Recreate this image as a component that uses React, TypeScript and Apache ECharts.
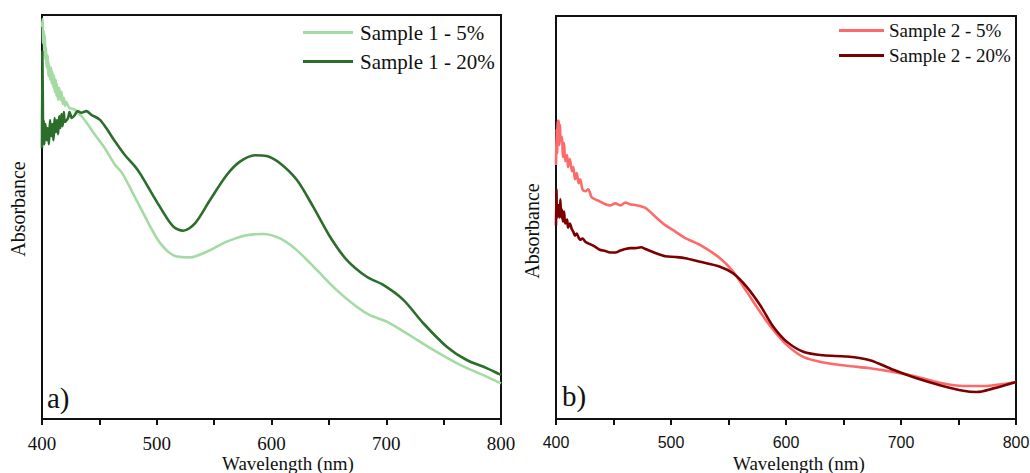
import React, { useEffect, useRef } from "react";
import * as echarts from "echarts";

// Panel a) Sample 1
const s1LowWl = [400, 400.5, 401, 401.5, 402, 402.5, 403, 403.5, 404, 405, 405.5, 406, 407, 408, 408.5, 409, 410, 410.5, 411, 412, 412.5, 413, 414, 415, 416, 417, 418, 419, 420, 421, 422.7, 424, 426, 428.5, 431, 434.3, 440, 446, 454.6, 463.4, 470, 485.4, 502.8, 517.4, 529, 543.5, 561, 578.4, 592.9, 607.4, 622, 639.4, 656.8, 674.2, 685.8, 700.4, 717.8, 741, 764.3, 787.5, 800];
const s1LowAbs = [0.97, 0.99, 0.93, 0.96, 0.9, 0.95, 0.89, 0.92, 0.87, 0.9, 0.85, 0.88, 0.84, 0.87, 0.83, 0.86, 0.82, 0.85, 0.81, 0.84, 0.8, 0.83, 0.79, 0.82, 0.79, 0.81, 0.78, 0.795, 0.775, 0.785, 0.775, 0.77, 0.768, 0.766, 0.758, 0.75, 0.729, 0.704, 0.671, 0.63, 0.608, 0.525, 0.436, 0.402, 0.4, 0.414, 0.439, 0.455, 0.458, 0.447, 0.418, 0.369, 0.319, 0.278, 0.257, 0.241, 0.212, 0.171, 0.134, 0.105, 0.088];

const s1HighWl = [400, 400.3, 400.7, 401, 401.5, 402, 403, 404, 405, 406, 407, 408, 409, 410, 411, 412, 413, 414, 415, 416, 417, 418, 419, 420, 422.7, 424, 426, 428.5, 431, 434.3, 438.6, 443, 450.3, 456, 463.4, 472, 480.8, 485.4, 502.8, 514.5, 523, 533.3, 546.4, 561, 572.5, 585.6, 595.8, 607.4, 622, 636.4, 651, 665.5, 683, 697.4, 714.9, 732.3, 752.7, 770.1, 787.5, 800];
const s1HighAbs = [0.67, 0.91, 0.8, 0.7, 0.74, 0.68, 0.73, 0.69, 0.72, 0.68, 0.74, 0.7, 0.73, 0.69, 0.745, 0.71, 0.74, 0.705, 0.75, 0.72, 0.755, 0.725, 0.76, 0.735, 0.745, 0.76, 0.745, 0.752, 0.762, 0.758, 0.762, 0.753, 0.741, 0.72, 0.688, 0.654, 0.626, 0.608, 0.525, 0.476, 0.466, 0.484, 0.542, 0.604, 0.637, 0.653, 0.651, 0.633, 0.592, 0.525, 0.451, 0.394, 0.352, 0.332, 0.295, 0.237, 0.179, 0.146, 0.126, 0.109];

// Panel b) Sample 2
const s2LowWl = [400, 400.5, 401, 401.5, 402.3, 403, 403.5, 404, 405.2, 406, 407, 408, 409.6, 410.5, 412, 413.9, 415, 416.5, 418, 419.7, 421, 423, 425.5, 428, 431, 434.2, 438, 442.9, 447, 451.6, 456, 460.3, 465, 469, 477.7, 486.4, 495, 503.8, 512.4, 525.2, 542.6, 554.2, 565.8, 577.4, 589, 600.6, 615, 632.4, 652.8, 673, 693.3, 713.6, 733.9, 754.2, 774.5, 789, 800];
const s2LowAbs = [0.63, 0.72, 0.66, 0.74, 0.74, 0.68, 0.73, 0.69, 0.7, 0.65, 0.685, 0.64, 0.655, 0.625, 0.645, 0.615, 0.625, 0.595, 0.61, 0.585, 0.595, 0.57, 0.565, 0.57, 0.55, 0.545, 0.54, 0.533, 0.53, 0.535, 0.53, 0.537, 0.532, 0.531, 0.524, 0.502, 0.481, 0.465, 0.449, 0.432, 0.399, 0.365, 0.316, 0.266, 0.221, 0.184, 0.154, 0.14, 0.132, 0.126, 0.117, 0.105, 0.09, 0.082, 0.082, 0.087, 0.092];

const s2HighWl = [400, 400.4, 400.8, 401.2, 402.3, 403, 403.8, 404.5, 405.2, 406, 407, 408, 409.6, 410.5, 412, 413.9, 415, 416.5, 418, 419.7, 421, 423, 425.5, 428, 431, 434.2, 438, 442.9, 447, 451.6, 456, 460.3, 465, 469, 474, 477.7, 486.4, 495, 503.8, 512.4, 525.2, 542.6, 554.2, 565.8, 577.4, 589, 600.6, 615, 632.4, 652.8, 673, 693.3, 713.6, 733.9, 754.2, 765.8, 780.3, 800];
const s2HighAbs = [0.48, 0.57, 0.5, 0.53, 0.53, 0.5, 0.545, 0.5, 0.52, 0.49, 0.515, 0.485, 0.495, 0.475, 0.485, 0.47, 0.465, 0.455, 0.46, 0.45, 0.445, 0.448, 0.44, 0.436, 0.432, 0.427, 0.42, 0.417, 0.413, 0.413, 0.418, 0.422, 0.424, 0.424, 0.426, 0.422, 0.412, 0.404, 0.402, 0.399, 0.39, 0.378, 0.361, 0.328, 0.283, 0.229, 0.192, 0.167, 0.158, 0.155, 0.146, 0.122, 0.101, 0.084, 0.07, 0.067, 0.076, 0.092];

const xTicks = [400, 500, 600, 700, 800];
const seriesNames = ["Sample 1 - 5%", "Sample 1 - 20%", "Sample 2 - 5%", "Sample 2 - 20%"];
const colors = ["#a3dba3", "#2b6e2b", "#fd6a6a", "#7d0000"];
const xTitle = "Wavelength (nm)";

const SERIF = "Liberation Serif";
const SANS = "Liberation Sans";

function pairs(xs: number[], ys: number[]) {
  return xs.map((x, i) => [x, ys[i]]);
}

export default function App() {
  const ref = useRef<HTMLDivElement>(null);
  useEffect(() => {
    if (!ref.current) return;
    const chart = echarts.init(ref.current, null, { renderer: "svg" });
    const xAxisBase = (idx: number, labelFont: string, labelSize: number, margin: number) => ({
      type: "value",
      gridIndex: idx,
      min: 400,
      max: 800,
      interval: 50,
      axisLine: { show: true, onZero: false, lineStyle: { color: "#111", width: 2 } },
      axisTick: { show: true, inside: false, length: 6, lineStyle: { color: "#111", width: 2 } },
      splitLine: { show: false },
      axisLabel: {
        show: true,
        margin,
        fontFamily: labelFont,
        fontSize: labelSize,
        lineHeight: labelSize,
        color: "#111",
        formatter: (v: number) => (xTicks.includes(v) ? String(v) : ""),
      },
    });
    const yAxisBase = (idx: number, pad: number[]) => ({
      type: "value",
      gridIndex: idx,
      min: 0,
      max: 1,
      name: "Absorbance",
      nameLocation: "middle",
      nameGap: 14,
      nameTextStyle: { fontFamily: SERIF, fontSize: 20, color: "#111", padding: pad },
      axisLine: { show: true, lineStyle: { color: "#111", width: 2 } },
      axisTick: { show: false },
      axisLabel: { show: false },
      splitLine: { show: false },
    });
    const lineSeries = (i: number, idx: number, data: number[][]) => ({
      type: "line",
      name: seriesNames[i],
      xAxisIndex: idx,
      yAxisIndex: idx,
      data,
      showSymbol: false,
      smooth: 0.3,
      color: colors[i],
      lineStyle: { color: colors[i], width: 2.6 },
      itemStyle: { color: colors[i] },
    });
    chart.setOption({
      animation: false,
      backgroundColor: "#ffffff",
      grid: [
        { left: 42, right: 529, top: 15, bottom: 54, show: true, borderColor: "#111", borderWidth: 2, backgroundColor: "transparent", outerBoundsMode: "none", containLabel: false },
        { left: 556, right: 14, top: 16, bottom: 54, show: true, borderColor: "#111", borderWidth: 2, backgroundColor: "transparent", outerBoundsMode: "none", containLabel: false },
      ],
      xAxis: [xAxisBase(0, SERIF, 19, 15), xAxisBase(1, SANS, 16, 15)],
      yAxis: [yAxisBase(0, [0, 0, 0, 16]), yAxisBase(1, [0, 27, 0, 0])],
      legend: [
        {
          data: [seriesNames[0], seriesNames[1]],
          orient: "vertical",
          left: 303,
          top: 22,
          padding: 0,
          icon: "rect",
          itemWidth: 50,
          itemHeight: 3,
          itemGap: 8,
          textStyle: { fontFamily: SERIF, fontSize: 21, color: "#111", lineHeight: 21, padding: [0, 0, 0, 2] },
        },
        {
          data: [seriesNames[2], seriesNames[3]],
          orient: "vertical",
          left: 839,
          top: 21,
          padding: 0,
          icon: "rect",
          itemWidth: 45,
          itemHeight: 3,
          itemGap: 6,
          textStyle: { fontFamily: SERIF, fontSize: 19, color: "#111", lineHeight: 19 },
        },
      ],
      graphic: [
        { type: "text", left: 222, top: 454, style: { text: xTitle, fontFamily: SERIF, fontSize: 19, fill: "#111" } },
        { type: "text", left: 733, top: 454, style: { text: xTitle, fontFamily: SERIF, fontSize: 19, fill: "#111" } },
        { type: "text", left: 47, top: 383, style: { text: "a)", fontFamily: SERIF, fontSize: 29, fill: "#111" } },
        { type: "text", left: 562, top: 381, style: { text: "b)", fontFamily: SERIF, fontSize: 29, fill: "#111" } },
      ],
      series: [
        lineSeries(0, 0, pairs(s1LowWl, s1LowAbs)),
        lineSeries(1, 0, pairs(s1HighWl, s1HighAbs)),
        lineSeries(2, 1, pairs(s2LowWl, s2LowAbs)),
        lineSeries(3, 1, pairs(s2HighWl, s2HighAbs)),
      ],
    });
    return () => chart.dispose();
  }, []);
  return <div ref={ref} style={{ position: "absolute", left: 0, top: 0, width: 1030, height: 473 }} />;
}
